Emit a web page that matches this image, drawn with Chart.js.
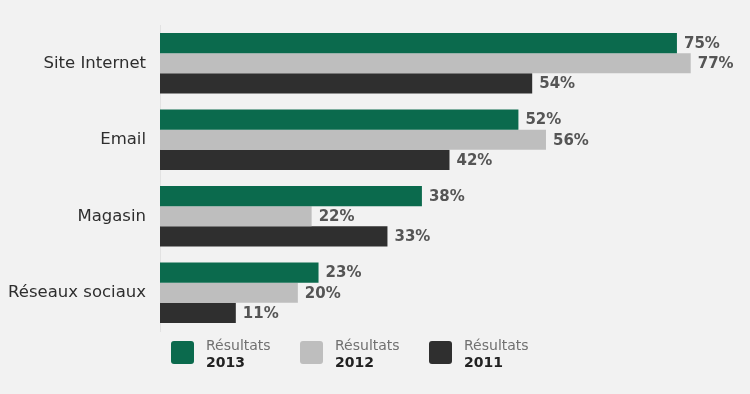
<!DOCTYPE html>
<html>
<head>
<meta charset="utf-8">
<script src="https://cdn.jsdelivr.net/npm/chart.js@4"></script>
<style>
  html, body { margin: 0; padding: 0; background: #f2f2f2; }
  #wrap { width: 750px; height: 394px; position: relative; }
</style>
</head>
<body>
<div id="wrap"><canvas id="myChart"></canvas></div>
<script>
const categories = ['Site Internet', 'Email', 'Magasin', 'Réseaux sociaux'];
const years = ['2013', '2012', '2011'];
const values2013 = [75, 52, 38, 23];
const values2012 = [77, 56, 22, 20];
const values2011 = [54, 42, 33, 11];
const colors = ['#0b6a4d', '#bebebe', '#2f2f2f'];

const FONT = '"DejaVu Sans", sans-serif';

const valueLabels = {
  id: 'valueLabels',
  afterDatasetsDraw(chart) {
    const ctx = chart.ctx;
    ctx.save();
    ctx.font = 'bold 15px ' + FONT;
    ctx.fillStyle = '#555555';
    ctx.textBaseline = 'middle';
    chart.data.datasets.forEach((ds, i) => {
      chart.getDatasetMeta(i).data.forEach((bar, j) => {
        ctx.fillText(ds.data[j] + '%', bar.x + 7, bar.y + 1);
      });
    });
    ctx.restore();
  }
};

const bottomLegend = {
  id: 'bottomLegend',
  afterDraw(chart) {
    const ctx = chart.ctx;
    ctx.save();
    years.forEach((y, i) => {
      const x = 171 + i * 129;
      ctx.fillStyle = colors[i];
      ctx.beginPath();
      ctx.roundRect(x, 341, 23, 23, 3);
      ctx.fill();
      ctx.fillStyle = '#707070';
      ctx.font = '14px ' + FONT;
      ctx.textBaseline = 'alphabetic';
      ctx.fillText('Résultats', x + 35, 350);
      ctx.fillStyle = '#222222';
      ctx.font = 'bold 14px ' + FONT;
      ctx.fillText(y, x + 35, 367);
    });
    ctx.restore();
  }
};

new Chart(document.getElementById('myChart'), {
  type: 'bar',
  data: {
    labels: categories,
    datasets: [
      { label: 'Résultats 2013', data: values2013, backgroundColor: colors[0] },
      { label: 'Résultats 2012', data: values2012, backgroundColor: colors[1] },
      { label: 'Résultats 2011', data: values2011, backgroundColor: colors[2] }
    ]
  },
  options: {
    indexAxis: 'y',
    responsive: true,
    maintainAspectRatio: false,
    animation: false,
    barPercentage: 1,
    categoryPercentage: 0.79,
    layout: { padding: { top: 25, bottom: 63, left: 0, right: 0 } },
    plugins: {
      legend: { display: false },
      tooltip: { enabled: false }
    },
    scales: {
      x: {
        display: false,
        min: 0,
        max: 85.6
      },
      y: {
        afterFit(scale) { scale.width = 160; },
        grid: { display: false, drawTicks: false },
        border: { display: true, color: '#e2e2e2', width: 1 },
        ticks: {
          color: '#2e2e2e',
          font: { family: FONT, size: 16.5 },
          padding: 14
        }
      }
    }
  },
  plugins: [valueLabels, bottomLegend]
});
</script>
</body>
</html>
